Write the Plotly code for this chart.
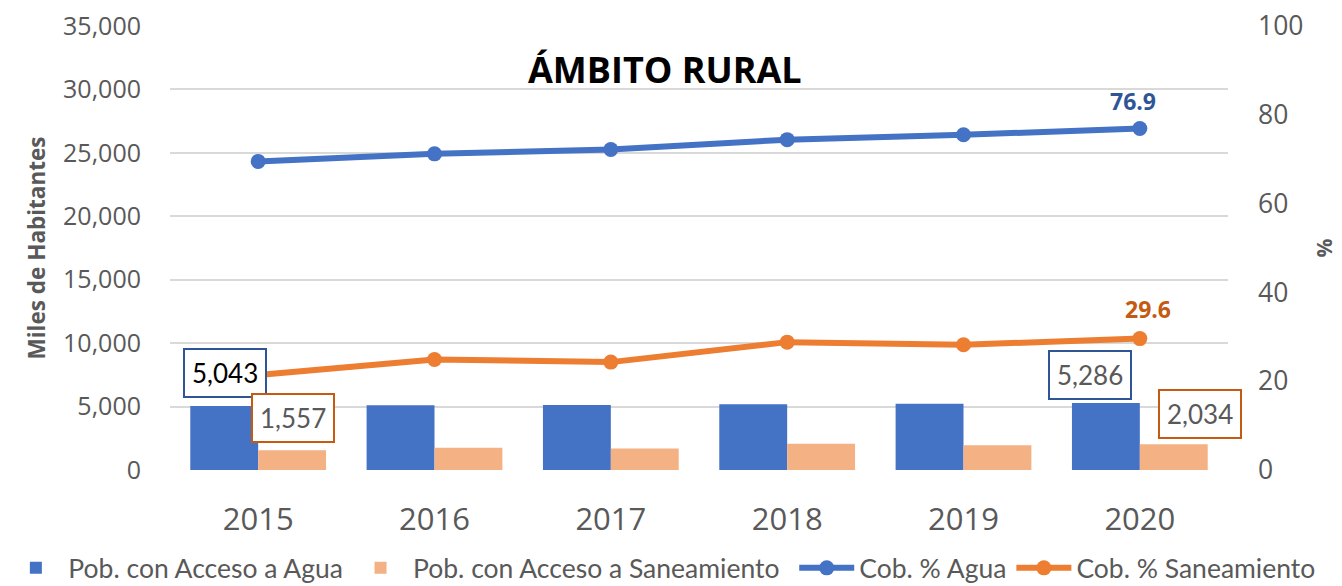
import plotly.graph_objects as go
from plotly.subplots import make_subplots

years = [2015, 2016, 2017, 2018, 2019, 2020]
pob_agua = [5043, 5110, 5120, 5190, 5230, 5286]
pob_san = [1557, 1750, 1700, 2060, 1950, 2034]
cob_agua = [69.5, 71.2, 72.2, 74.4, 75.5, 76.9]
cob_san = [21.4, 24.9, 24.3, 28.8, 28.2, 29.6]

left_ticks = [0, 5000, 10000, 15000, 20000, 25000, 30000, 35000]
right_ticks = [0, 20, 40, 60, 80, 100]

BLUE = "#4472C4"
ORANGE = "#ED7D31"
LORANGE = "#F4B183"
DBLUE = "#2F5597"
DORANGE = "#C55A11"
GRAY = "#595959"
FONT = "Open Sans"
LFONT = "Lato"

fig = make_subplots(specs=[[{"secondary_y": True}]])

fig.add_trace(go.Bar(x=years, y=pob_agua, name="Pob. con Acceso a Agua", legend="legend",
                     marker=dict(color=BLUE, line=dict(width=0))), secondary_y=False)
fig.add_trace(go.Bar(x=years, y=pob_san, name="Pob. con Acceso a Saneamiento", legend="legend",
                     marker=dict(color=LORANGE, line=dict(width=0))), secondary_y=False)
fig.add_trace(go.Scatter(x=years, y=cob_agua, name="Cob. % Agua", mode="lines+markers",
                         legend="legend2",
                         line=dict(color=BLUE, width=6), marker=dict(size=15, color=BLUE)),
              secondary_y=True)
fig.add_trace(go.Scatter(x=years, y=cob_san, name="Cob. % Saneamiento", mode="lines+markers",
                         legend="legend2",
                         line=dict(color=ORANGE, width=6), marker=dict(size=15, color=ORANGE)),
              secondary_y=True)

# data labels
def box_label(xval, yval, text, border, color, xshift, yshift):
    fig.add_annotation(x=xval, y=yval, xref="x", yref="y", text=text, showarrow=False,
                       xshift=xshift, yshift=yshift, yanchor="bottom",
                       font=dict(family=LFONT, size=26, color=color),
                       bgcolor="white", bordercolor=border, borderwidth=2, borderpad=7)

box_label(years[0], pob_agua[0], f"{pob_agua[0]:,}", DBLUE, "#000000", -33, 8)
box_label(years[0], pob_san[0], f"{pob_san[0]:,}", DORANGE, GRAY, 35, 7)
box_label(years[-1], pob_agua[-1], f"{pob_agua[-1]:,}", DBLUE, GRAY, -50, 3)
box_label(years[-1], pob_san[-1], f"{pob_san[-1]:,}", DORANGE, GRAY, 60, 5)

fig.add_annotation(x=years[-1], y=cob_agua[-1], xref="x", yref="y2", text=f"<b>{cob_agua[-1]}</b>",
                   showarrow=False, yanchor="middle", yshift=28, xshift=-7,
                   font=dict(family=FONT, size=23, color=DBLUE))
fig.add_annotation(x=years[-1], y=cob_san[-1], xref="x", yref="y2", text=f"<b>{cob_san[-1]}</b>",
                   showarrow=False, yanchor="middle", yshift=30, xshift=8,
                   font=dict(family=FONT, size=23, color=DORANGE))

fig.add_annotation(x=0.468, y=0.902, xref="paper", yref="paper", text="<b>ÁMBITO RURAL</b>",
                   showarrow=False, yanchor="middle",
                   font=dict(family=FONT, size=36, color="#000000"))

legend_style = dict(orientation="h", yanchor="middle", xanchor="left",
                    font=dict(family=LFONT, size=26.5, color=GRAY), traceorder="normal",
                    itemwidth=55, tracegroupgap=0, bgcolor="rgba(0,0,0,0)")

fig.update_layout(
    width=1334, height=578,
    margin=dict(l=162, r=114, t=18, b=116, autoexpand=False),
    paper_bgcolor="white", plot_bgcolor="white",
    barmode="group", bargap=0.23, bargroupgap=0,
    font=dict(family=FONT, color=GRAY),
    showlegend=True,
    legend=dict(x=-0.1575, y=-0.221, **legend_style),
    legend2=dict(x=0.590, y=-0.221, **legend_style),
)

fig.update_xaxes(domain=[0, 1], range=[2014.5, 2020.5], tickvals=years,
                 ticktext=[str(y) for y in years],
                 showgrid=False, showline=False, zeroline=False,
                 tickfont=dict(family=FONT, size=31, color=GRAY), ticks="", ticklabelstandoff=28)
fig.update_yaxes(range=[0, 35000], tickvals=left_ticks, tickformat=",", showgrid=True,
                 gridcolor="#D9D9D9", gridwidth=1.5, zeroline=False, showline=False,
                 tickfont=dict(family=FONT, size=25, color=GRAY), ticklabelstandoff=28,
                 ticklabeloverflow="allow", automargin=False,
                 title=dict(text="<b>Miles de Habitantes</b>", standoff=11,
                            font=dict(family=FONT, size=22.5, color=GRAY)),
                 secondary_y=False)
fig.update_yaxes(range=[0, 100], tickvals=right_ticks, showgrid=False, zeroline=False,
                 showline=False, tickfont=dict(family=FONT, size=26.5, color=GRAY),
                 ticklabelstandoff=29, ticklabeloverflow="allow", automargin=False,
                 title=dict(text="<b>%</b>", standoff=14,
                            font=dict(family=FONT, size=21, color=GRAY)),
                 secondary_y=True)

fig.write_html("out.html")
